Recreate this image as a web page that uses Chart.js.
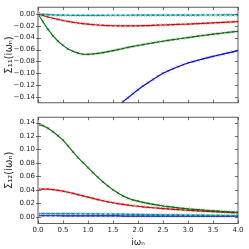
<!DOCTYPE html>
<html>
<head>
<meta charset="utf-8">
<script src="https://cdn.jsdelivr.net/npm/chart.js@4.4.1/dist/chart.umd.min.js"></script>
<style>
  body { margin: 0; background: #fff; }
  #wrap { position: relative; width: 249px; height: 249px; }
  canvas { position: absolute; left: 0; }
</style>
</head>
<body>
<div id="wrap">
  <canvas id="top" width="249" height="110" style="top:0"></canvas>
  <canvas id="bot" width="249" height="139" style="top:110px"></canvas>
</div>
<script>
// Matsubara frequencies (x axis)
const freqs = [0,0.1,0.2,0.3,0.4,0.5,0.6,0.7,0.8,0.9,1.0,
  1.1,1.2,1.3,1.4,1.5,1.6,1.7,1.8,1.9,2.0,
  2.1,2.2,2.3,2.4,2.5,2.6,2.7,2.8,2.9,3.0,
  3.1,3.2,3.3,3.4,3.5,3.6,3.7,3.8,3.9,4.0];

// Sigma_11 curves (top panel)
const s11Cyan = [0,-0.0006,-0.0011,-0.0015,-0.0018,-0.002,-0.0021,-0.0022,-0.0022,-0.0022,-0.0022,
  -0.0022,-0.0022,-0.0022,-0.0021,-0.0021,-0.0021,-0.0021,-0.0021,-0.002,-0.002,
  -0.002,-0.002,-0.002,-0.0019,-0.0019,-0.0019,-0.0019,-0.0018,-0.0018,-0.0018,
  -0.0018,-0.0018,-0.0017,-0.0017,-0.0017,-0.0017,-0.0016,-0.0016,-0.0016,-0.0016];
const s11Red = [0,-0.0025,-0.005,-0.0072,-0.0092,-0.011,-0.0126,-0.014,-0.0152,-0.0163,-0.0172,
  -0.018,-0.0186,-0.0191,-0.0195,-0.0198,-0.02,-0.0201,-0.0201,-0.02,-0.0199,
  -0.0197,-0.0195,-0.0192,-0.0189,-0.0186,-0.0183,-0.018,-0.0176,-0.0173,-0.017,
  -0.0166,-0.0162,-0.0158,-0.0154,-0.015,-0.0146,-0.0142,-0.0137,-0.0132,-0.0127];
const s11Green = [0,-0.013,-0.026,-0.037,-0.046,-0.053,-0.059,-0.063,-0.066,-0.068,-0.0681,
  -0.0675,-0.0665,-0.0652,-0.0636,-0.0619,-0.0601,-0.0583,-0.0565,-0.0548,-0.0532,
  -0.0517,-0.0502,-0.0487,-0.0473,-0.046,-0.0447,-0.0434,-0.0422,-0.041,-0.0398,
  -0.0386,-0.0374,-0.0363,-0.0352,-0.0341,-0.0331,-0.0321,-0.0311,-0.0301,-0.0291];
// blue stays below the visible range until about 1.66
const s11Blue = [-0.47,-0.443,-0.417,-0.392,-0.368,-0.345,-0.323,-0.302,-0.282,-0.263,-0.245,
  -0.228,-0.212,-0.197,-0.183,-0.17,-0.158,-0.148,-0.1415,-0.1345,-0.128,
  -0.1218,-0.116,-0.1105,-0.1052,-0.1002,-0.0962,-0.0925,-0.089,-0.0858,-0.0828,
  -0.0804,-0.0781,-0.0758,-0.0737,-0.0717,-0.0697,-0.0677,-0.0658,-0.0639,-0.062];

// Sigma_12 curves (bottom panel)
const s12Cyan = [0.0048,0.0048,0.0048,0.0048,0.0047,0.0047,0.0046,0.0046,0.0045,0.0045,0.0044,
  0.0043,0.0042,0.0041,0.0041,0.004,0.0039,0.0038,0.0037,0.0036,0.0035,
  0.0034,0.0033,0.0032,0.0031,0.003,0.0029,0.0028,0.0027,0.0026,0.0025,
  0.0024,0.0023,0.0023,0.0022,0.0021,0.002,0.0019,0.0019,0.0018,0.0017];
const s12Red = [0.041,0.0412,0.041,0.0403,0.0393,0.038,0.0364,0.0347,0.0329,0.031,0.0292,
  0.0273,0.0255,0.0238,0.0222,0.0208,0.0195,0.0184,0.0174,0.0164,0.0156,
  0.0148,0.0141,0.0134,0.0128,0.0122,0.0116,0.0111,0.0106,0.0101,0.0097,
  0.0092,0.0088,0.0084,0.008,0.0076,0.0073,0.0069,0.0066,0.0063,0.006];
const s12Green = [0.137,0.1355,0.1315,0.1265,0.1205,0.114,0.1055,0.0965,0.088,0.0805,0.073,
  0.0657,0.0585,0.0518,0.0457,0.04,0.0353,0.031,0.0275,0.025,0.0232,
  0.0214,0.0199,0.0185,0.0172,0.016,0.0151,0.0142,0.0133,0.0125,0.0117,
  0.0111,0.0105,0.0099,0.0093,0.0088,0.0083,0.0078,0.0073,0.0069,0.0065];
const s12Blue = [0.0015,0.0015,0.0015,0.0015,0.0015,0.0014,0.0014,0.0014,0.0014,0.0013,0.0013,
  0.0013,0.0013,0.0012,0.0012,0.0012,0.0012,0.0011,0.0011,0.0011,0.0011,
  0.0011,0.001,0.001,0.001,0.001,0.001,0.001,0.0009,0.0009,0.0009,
  0.0009,0.0009,0.0009,0.0009,0.0008,0.0008,0.0008,0.0008,0.0008,0.0008];

const font = "'DejaVu Sans', sans-serif";

const series = (vals, color) => ({
  data: freqs.map((x, i) => ({ x: x, y: vals[i] })),
  borderColor: color,
  borderWidth: 1.2,
  pointStyle: 'crossRot',
  pointRadius: 2,
  pointBorderWidth: 0.6,
  pointBorderColor: 'rgba(40,40,40,0.75)',
  pointBackgroundColor: 'rgba(40,40,40,0.75)',
  fill: false
});

const fmtY = v => {
  const a = Math.abs(v) < 1e-9 ? 0 : v;
  return (a < 0 ? '\u2212' : '') + Math.abs(a).toFixed(2);
};

// matplotlib-like frame: box + inward ticks on all four sides
const frame = {
  id: 'frame',
  afterDraw(chart) {
    const { ctx, chartArea: a, scales } = chart;
    ctx.save();
    ctx.strokeStyle = '#333';
    ctx.lineWidth = 0.8;
    ctx.strokeRect(a.left, a.top, a.right - a.left, a.bottom - a.top);
    ctx.strokeStyle = '#aaa';
    ctx.lineWidth = 2;
    ctx.beginPath(); ctx.moveTo(a.left, a.top); ctx.lineTo(a.left, a.bottom); ctx.stroke();
    ctx.strokeStyle = '#333';
    ctx.lineWidth = 0.7;
    ctx.beginPath();
    scales.x.ticks.forEach(t => {
      const px = Math.round(scales.x.getPixelForValue(t.value)) + 0.5;
      ctx.moveTo(px, a.top); ctx.lineTo(px, a.top + 3);
      ctx.moveTo(px, a.bottom); ctx.lineTo(px, a.bottom - 3);
    });
    scales.y.ticks.forEach(t => {
      const py = Math.round(scales.y.getPixelForValue(t.value)) + 0.5;
      ctx.moveTo(a.left - 2, py); ctx.lineTo(a.left + 3, py);
      ctx.moveTo(a.right, py); ctx.lineTo(a.right - 3, py);
    });
    ctx.stroke();
    ctx.restore();
  }
};

function makeOptions(yMin, yMax, yTitle, showX, pad) {
  return {
    responsive: false,
    animation: false,
    layout: { padding: pad },
    plugins: { legend: { display: false }, tooltip: { enabled: false } },
    scales: {
      x: {
        type: 'linear', min: 0, max: 4,
        border: { display: false },
        grid: { display: false, drawTicks: false },
        ticks: {
          display: showX, stepSize: 0.5, padding: 2, color: '#222',
          font: { family: font, size: 7 },
          callback: v => v.toFixed(1)
        },
        title: {
          display: showX, text: 'i\u03c9\u2099', color: '#222',
          font: { family: font, size: 9 }, padding: { top: 0, bottom: 1 }
        },
        afterFit: s => { s.height = showX ? 25.5 : 0; }
      },
      y: {
        min: yMin, max: yMax,
        border: { display: false },
        grid: { display: false, drawTicks: false },
        ticks: {
          stepSize: 0.02, includeBounds: false, padding: 3, color: '#222',
          font: { family: font, size: 7 },
          callback: fmtY
        },
        title: {
          display: true, text: yTitle, color: '#222',
          font: { family: font, size: 10 }, padding: { top: 3, bottom: 0 }
        },
        afterFit: s => { s.width = 38; }
      }
    }
  };
}

new Chart(document.getElementById('top'), {
  type: 'line',
  data: {
    datasets: [
      series(s11Cyan, '#00bfbf'),
      series(s11Red, '#ff0000'),
      series(s11Green, '#008000'),
      series(s11Blue, '#0000ff')
    ]
  },
  options: makeOptions(-0.15, 0.0115, '\u03a3\u2081\u2081(i\u03c9\u2099)', false,
    { left: 0, right: 11, top: 5, bottom: 1 }),
  plugins: [frame]
});

new Chart(document.getElementById('bot'), {
  type: 'line',
  data: {
    datasets: [
      series(s12Green, '#008000'),
      series(s12Red, '#ff0000'),
      series(s12Cyan, '#00bfbf'),
      series(s12Blue, '#0000ff')
    ]
  },
  options: makeOptions(-0.01, 0.148, '\u03a3\u2081\u2082(i\u03c9\u2099)', true,
    { left: 0, right: 11, top: 6, bottom: 0 }),
  plugins: [frame]
});
</script>
</body>
</html>
